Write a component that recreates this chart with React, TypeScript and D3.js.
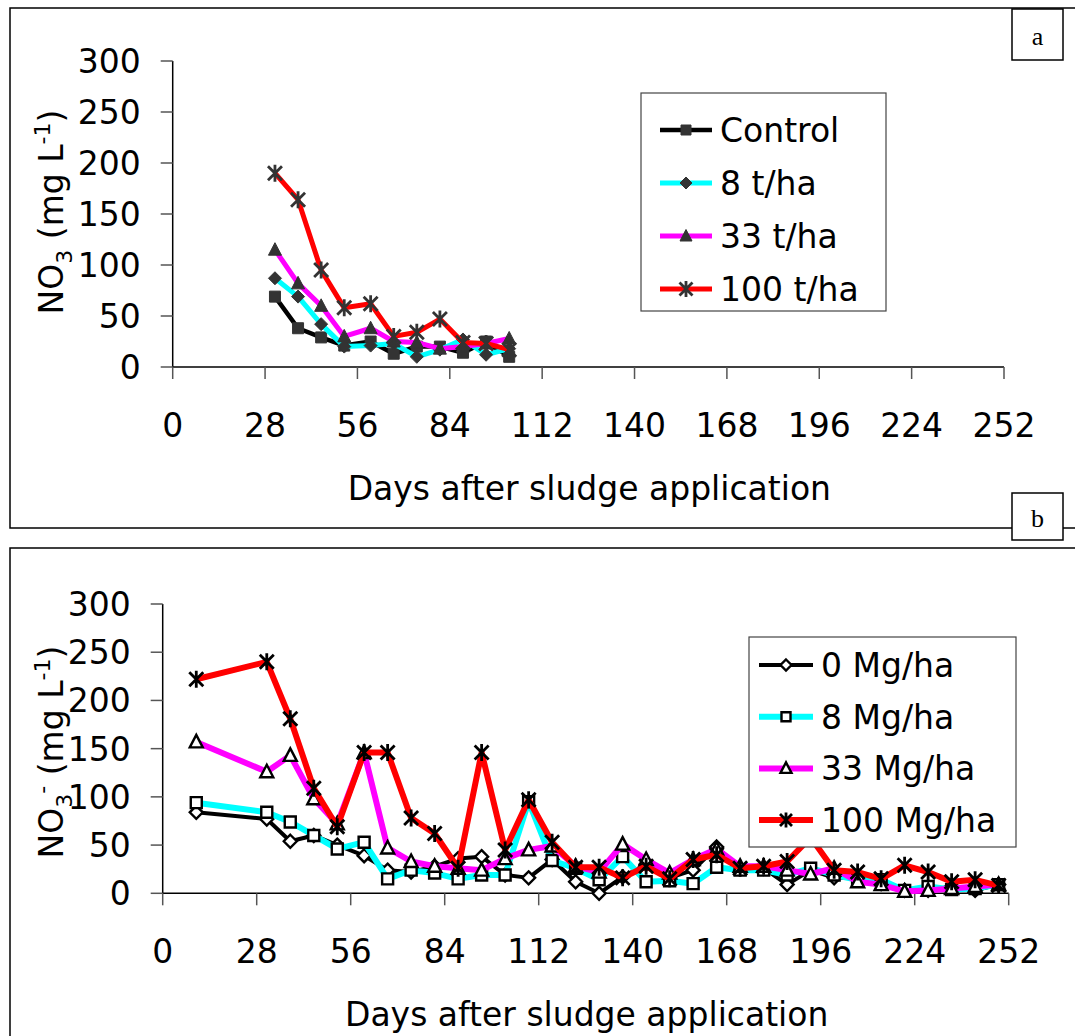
import React from "react";
import * as d3 from "d3";

// panel a (t/ha)
const daysA = [31, 38, 45, 52, 60, 67, 74, 81, 88, 95, 102];
const controlA = [69, 38, 29, 21, 25, 13, 20, 20, 14, 25, 10];
const t8A = [87, 69, 42, 20, 21, 23, 10, 17, 27, 12, 18];
const t33A = [115, 82, 60, 30, 38, 25, 24, 18, 20, 23, 28];
const t100A = [190, 164, 95, 58, 62, 30, 34, 47, 24, 23, 17];

// panel b (Mg/ha)
const daysB = [10, 31, 38, 45, 52, 60, 67, 74, 81, 88, 95, 102, 109, 116, 123, 130, 137, 144, 151, 158, 165, 172, 179, 186, 193, 200, 207, 214, 221, 228, 235, 242, 249];
const mg0B = [84, 77, 54, 60, 50, 39, 24, 22, 28, 36, 38, 19, 16, 35, 12, 0, 17, 30, 16, 24, 48, 26, 26, 9, 24, 16, 16, 10, 3, 3, 7, 3, 9];
const mg8B = [94, 84, 74, 60, 46, 53, 15, 24, 21, 15, 19, 19, 95, 34, 26, 14, 38, 12, 13, 10, 27, 24, 24, 19, 26, 19, 14, 14, 3, 7, 4, 5, 9];
const mg33B = [157, 126, 143, 98, 72, 146, 47, 33, 28, 26, 24, 36, 45, 49, 28, 22, 51, 35, 21, 35, 46, 28, 28, 24, 20, 26, 12, 9, 2, 3, 5, 7, 9];
const mg100B = [222, 240, 181, 109, 69, 146, 146, 78, 62, 26, 146, 45, 97, 53, 27, 27, 16, 28, 15, 35, 40, 26, 28, 33, 58, 24, 22, 15, 29, 22, 12, 14, 8];

const xTicks = [0, 28, 56, 84, 112, 140, 168, 196, 224, 252];
const yTicks = [0, 50, 100, 150, 200, 250, 300];

const FONT = "DejaVu Sans, Verdana, sans-serif";
const FS = 33;

type Shape = "square" | "diamond" | "triangle" | "star";

function markerPath(shape: Shape, s: number) {
  const h = s / 2;
  if (shape === "square") return `M${-h},${-h}H${h}V${h}H${-h}Z`;
  if (shape === "diamond") return `M0,${-h - 1}L${h + 1},0L0,${h + 1}L${-h - 1},0Z`;
  if (shape === "triangle") return `M0,${-h - 1.5}L${h + 1},${h}L${-h - 1},${h}Z`;
  return `M${-h},${-h}L${h},${h}M${-h},${h}L${h},${-h}M0,${-h - 1.5}V${h + 1.5}`;
}

function Marker({ shape, x, y, size, open }: { shape: Shape; x: number; y: number; size: number; open: boolean }) {
  if (shape === "star") {
    return <path d={markerPath(shape, size + 3)} transform={`translate(${x},${y})`} stroke={open ? "#000" : "#333"} strokeWidth={2.8} fill="none" />;
  }
  const d = markerPath(shape, size);
  return open
    ? <path d={d} transform={`translate(${x},${y})`} stroke="#000" strokeWidth={2.4} fill="#fff" />
    : <path d={d} transform={`translate(${x},${y})`} stroke="#333" strokeWidth={1} fill="#333" />;
}

interface Series { name: string; values: number[]; color: string; width: number; shape: Shape }

function Panel({ days, series, xRange, yRange, open, ylabelSup, labelCy, legend }: any) {
  const x = d3.scaleLinear().domain([0, 252]).range(xRange);
  const y = d3.scaleLinear().domain([0, 300]).range(yRange);
  const line = d3.line<number>().x((_, i) => x(days[i])).y(d => y(d));
  const y0 = y(0);
  return (
    <g>
      {/* axes */}
      <line x1={x(0)} x2={x(252)} y1={y0} y2={y0} stroke="#000" strokeWidth={1.5} />
      <line x1={x(0)} x2={x(0)} y1={y(300)} y2={y0} stroke="#000" strokeWidth={1.5} />
      {xTicks.map(t => (
        <g key={"x" + t}>
          <line x1={x(t)} x2={x(t)} y1={y0} y2={y0 + 12} stroke="#555" strokeWidth={1.5} />
          <text x={x(t)} y={y0 + 70} textAnchor="middle" fontSize={FS} fontFamily={FONT}>{t}</text>
        </g>
      ))}
      {yTicks.map(t => (
        <g key={"y" + t}>
          <line x1={x(0) - 12} x2={x(0)} y1={y(t)} y2={y(t)} stroke="#555" strokeWidth={1.5} />
          <text x={x(0) - 32} y={y(t) + 12} textAnchor="end" fontSize={FS} fontFamily={FONT}>{t}</text>
        </g>
      ))}
      <text x={(x(0) + x(252)) / 2 + 1} y={y0 + 133} textAnchor="middle" fontSize={FS} fontFamily={FONT}>Days after sludge application</text>
      <text transform={`translate(63,${labelCy}) rotate(-90)`} textAnchor="middle" fontSize={FS} fontFamily={FONT}>
        NO<tspan dy={9} fontSize={22}>3</tspan>
        {ylabelSup ? <tspan dy={-22} fontSize={22}>-</tspan> : null}
        <tspan dy={ylabelSup ? 13 : -9}> (mg L</tspan>
        <tspan dy={-13} fontSize={22}>-1</tspan>
        <tspan dy={13}>)</tspan>
      </text>
      {/* series */}
      {series.map((s: Series) => (
        <g key={s.name}>
          <path d={line(s.values) || ""} fill="none" stroke={s.color} strokeWidth={s.width} strokeLinejoin="round" />
          {s.values.map((v, i) => (
            <Marker key={i} shape={s.shape} x={x(days[i])} y={y(v)} size={open ? 11 : 11} open={open} />
          ))}
        </g>
      ))}
      {/* legend */}
      <rect x={legend.x} y={legend.y} width={legend.w} height={legend.h} fill="#fff" stroke="#444" strokeWidth={1.2} />
      {series.map((s: Series, i: number) => {
        const cy = legend.y0 + i * legend.step;
        const lx = legend.x + legend.pad;
        return (
          <g key={"lg" + s.name}>
            <line x1={lx} x2={lx + legend.len} y1={cy} y2={cy} stroke={s.color} strokeWidth={s.width} />
            <Marker shape={s.shape} x={lx + legend.len / 2} y={cy} size={open ? 9 : 10} open={open} />
            <text x={lx + legend.len + 8} y={cy + 12} fontSize={FS} fontFamily={FONT}>{s.name}</text>
          </g>
        );
      })}
    </g>
  );
}

export default function App() {
  const seriesA: Series[] = [
    { name: "Control", values: controlA, color: "#000", width: 4.5, shape: "square" },
    { name: "8 t/ha", values: t8A, color: "#00ffff", width: 5, shape: "diamond" },
    { name: "33 t/ha", values: t33A, color: "#ff00ff", width: 5, shape: "triangle" },
    { name: "100 t/ha", values: t100A, color: "#ff0000", width: 5, shape: "star" },
  ];
  const seriesB: Series[] = [
    { name: "0 Mg/ha", values: mg0B, color: "#000", width: 4, shape: "diamond" },
    { name: "8 Mg/ha", values: mg8B, color: "#00ffff", width: 6, shape: "square" },
    { name: "33 Mg/ha", values: mg33B, color: "#ff00ff", width: 6, shape: "triangle" },
    { name: "100 Mg/ha", values: mg100B, color: "#ff0000", width: 6, shape: "star" },
  ];
  return (
    <svg width={1075} height={1036} style={{ position: "absolute", left: 0, top: 0, background: "#fff" }}>
      {/* panel frames */}
      <rect x={10} y={8} width={1080} height={520} fill="none" stroke="#000" strokeWidth={1.5} />
      <rect x={10} y={548} width={1080} height={500} fill="none" stroke="#000" strokeWidth={1.5} />
      <Panel days={daysA} series={seriesA} xRange={[172.7, 1004]} yRange={[367, 61]} open={false} ylabelSup={false} labelCy={212}
        legend={{ x: 641, y: 93, w: 245, h: 218, y0: 130, step: 53, pad: 19, len: 52 }} />
      <Panel days={daysB} series={seriesB} xRange={[162.7, 1008.7]} yRange={[893.3, 604]} open={true} ylabelSup={true} labelCy={752}
        legend={{ x: 749, y: 637, w: 267, h: 210, y0: 665, step: 51.7, pad: 10, len: 54 }} />
      {/* panel letters */}
      <rect x={1012} y={9} width={51} height={51} fill="#fff" stroke="#000" strokeWidth={1.5} />
      <text x={1037.5} y={45} textAnchor="middle" fontSize={26} fontFamily="Liberation Serif, serif">a</text>
      <rect x={1012} y={493} width={51} height={47} fill="#fff" stroke="#000" strokeWidth={1.5} />
      <text x={1037.5} y={527} textAnchor="middle" fontSize={26} fontFamily="Liberation Serif, serif">b</text>
    </svg>
  );
}
